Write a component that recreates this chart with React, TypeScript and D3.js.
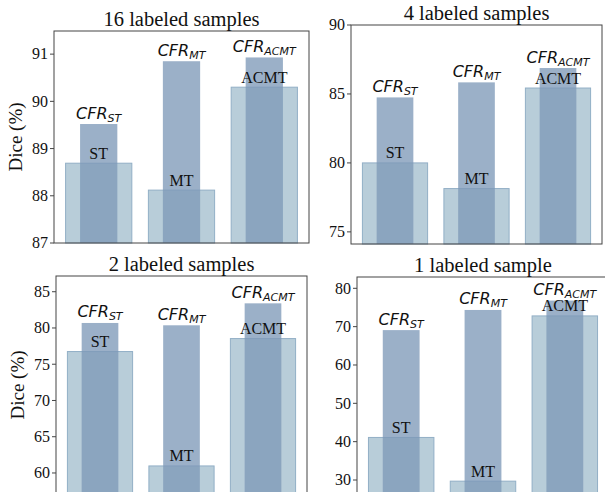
import React from 'react'
import * as d3 from 'd3'

const methods = ['ST', 'MT', 'ACMT']

const base16 = [88.69, 88.12, 90.30]
const cfr16 = [89.52, 90.85, 90.93]
const base4 = [80.0, 78.14, 85.43]
const cfr4 = [84.75, 85.84, 86.88]
const base2 = [76.75, 60.97, 78.54]
const cfr2 = [80.69, 80.37, 83.4]
const base1 = [41.1, 29.7, 72.8]
const cfr1 = [69.1, 74.35, 76.8]

const ticks16 = [87, 88, 89, 90, 91]
const ticks4 = [75, 80, 85, 90]
const ticks2 = [60, 65, 70, 75, 80, 85]
const ticks1 = [30, 40, 50, 60, 70, 80]

const SERIF = '"Liberation Serif", "Times New Roman", serif'
const SANS = '"DejaVu Sans", sans-serif'

interface PanelProps {
  title: string
  base: number[]
  cfr: number[]
  ticks: number[]
  yDomain: [number, number]
  box: { left: number; right: number; top: number; bottom: number }
  showYLabel: boolean
}

function Panel({ title, base, cfr, ticks, yDomain, box, showYLabel }: PanelProps) {
  const x = d3.scaleLinear().domain([-0.54, 2.54]).range([box.left, box.right])
  const y = d3.scaleLinear().domain(yDomain).range([box.bottom, box.top])
  const unit = x(1) - x(0)
  const wideW = 0.8 * unit
  const narrowW = 0.45 * unit

  return (
    <g>
      {/* baseline bars */}
      {base.map((v, i) => (
        <rect
          key={'b' + i}
          x={x(i) - wideW / 2}
          y={y(v)}
          width={wideW}
          height={box.bottom - y(v)}
          fill="#b8cdd9"
          stroke="#92afc6"
          strokeWidth={1}
        />
      ))}
      {/* CFR bars */}
      {cfr.map((v, i) => (
        <rect
          key={'c' + i}
          x={x(i) - narrowW / 2}
          y={y(v)}
          width={narrowW}
          height={box.bottom - y(v)}
          fill="rgb(125,152,184)"
          fillOpacity={0.77}
        />
      ))}
      {base.map((v, i) => (
        <text
          key={'bl' + i}
          x={x(i)}
          y={y(v) - 4.5}
          textAnchor="middle"
          fontFamily={SERIF}
          fontSize={16}
          fill="#111"
        >
          {methods[i]}
        </text>
      ))}
      {cfr.map((v, i) => (
        <text
          key={'cl' + i}
          x={x(i)}
          y={y(v) - 5.5}
          textAnchor="middle"
          fontFamily={SANS}
          fontStyle="italic"
          fontSize={16}
          fill="#111"
        >
          CFR
          <tspan fontSize={11} dy={3}>
            {methods[i]}
          </tspan>
        </text>
      ))}
      {/* axes frame */}
      <rect
        x={box.left}
        y={box.top}
        width={box.right - box.left}
        height={box.bottom - box.top}
        fill="none"
        stroke="#444"
        strokeWidth={1}
      />
      {ticks.map(t => (
        <g key={t}>
          <line x1={box.left - 4} x2={box.left} y1={y(t)} y2={y(t)} stroke="#444" />
          <text
            x={box.left - 6}
            y={y(t)}
            dy="0.33em"
            textAnchor="end"
            fontFamily={SERIF}
            fontSize={16}
            fill="#111"
          >
            {t}
          </text>
        </g>
      ))}
      <text
        x={(box.left + box.right) / 2}
        y={box.top - 5}
        textAnchor="middle"
        fontFamily={SERIF}
        fontSize={20.5}
        fill="#111"
      >
        {title}
      </text>
      {showYLabel && (
        <text
          transform={`translate(${box.left - 32},${(box.top + box.bottom) / 2}) rotate(-90)`}
          textAnchor="middle"
          fontFamily={SERIF}
          fontSize={19}
          fill="#111"
        >
          Dice (%)
        </text>
      )}
    </g>
  )
}

export default function App() {
  return (
    <div style={{ position: 'absolute', left: 0, top: 0 }}>
      <svg width={605} height={492} style={{ display: 'block', background: '#fff' }}>
        <Panel
          title="16 labeled samples"
          base={base16}
          cfr={cfr16}
          ticks={ticks16}
          yDomain={[87, 91.49]}
          box={{ left: 54, right: 309, top: 31, bottom: 243 }}
          showYLabel
        />
        <Panel
          title="4 labeled samples"
          base={base4}
          cfr={cfr4}
          ticks={ticks4}
          yDomain={[74.12, 90]}
          box={{ left: 351, right: 602, top: 25, bottom: 244 }}
          showYLabel={false}
        />
        <Panel
          title="2 labeled samples"
          base={base2}
          cfr={cfr2}
          ticks={ticks2}
          yDomain={[57.1, 87.17]}
          box={{ left: 56, right: 307, top: 276, bottom: 494 }}
          showYLabel
        />
        <Panel
          title="1 labeled sample"
          base={base1}
          cfr={cfr1}
          ticks={ticks1}
          yDomain={[26.35, 82.95]}
          box={{ left: 357, right: 609, top: 277, bottom: 494 }}
          showYLabel={false}
        />
      </svg>
    </div>
  )
}
